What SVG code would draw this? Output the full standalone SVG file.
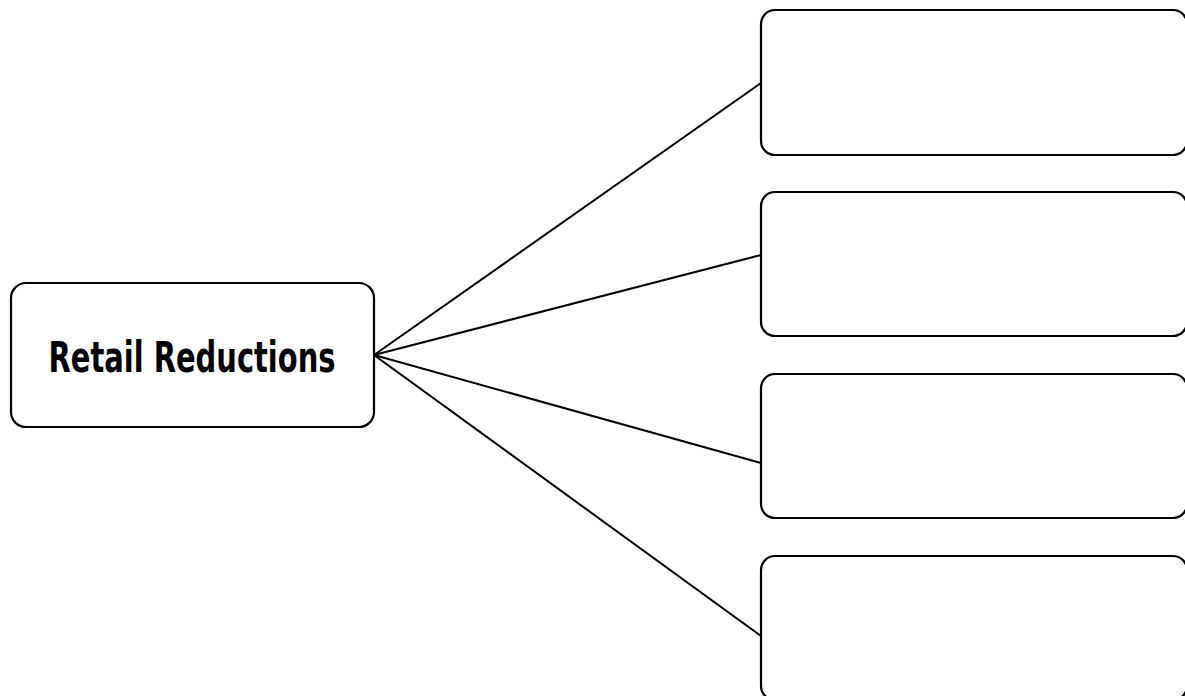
<svg xmlns="http://www.w3.org/2000/svg" width="1185" height="696" viewBox="0 0 1185 696">
<style>
.box{fill:#fff;stroke:#000;stroke-width:2.2}
.conn{stroke:#000;stroke-width:2;fill:none}
.lbl{font-family:"DejaVu Sans Condensed","DejaVu Sans",sans-serif;font-weight:bold;font-size:43px;fill:#000}
</style>
<rect width="1185" height="696" fill="#fff"/>
<g id="connectors">
<line class="conn" x1="374" y1="355" x2="761" y2="83"/>
<line class="conn" x1="374" y1="355" x2="761" y2="255"/>
<line class="conn" x1="374" y1="355" x2="761" y2="463"/>
<line class="conn" x1="374" y1="355" x2="761" y2="636"/>
</g>
<g id="root">
<rect class="box" x="11" y="283" width="363" height="144" rx="15"/>
<text class="lbl" x="192" y="372" text-anchor="middle" textLength="287" lengthAdjust="spacingAndGlyphs">Retail Reductions</text>
</g>
<g id="branch1"><rect class="box" x="761" y="10" width="426" height="145" rx="14"/></g>
<g id="branch2"><rect class="box" x="761" y="192" width="426" height="144" rx="14"/></g>
<g id="branch3"><rect class="box" x="761" y="374" width="426" height="144" rx="14"/></g>
<g id="branch4"><rect class="box" x="761" y="556" width="426" height="144" rx="14"/></g>
</svg>
